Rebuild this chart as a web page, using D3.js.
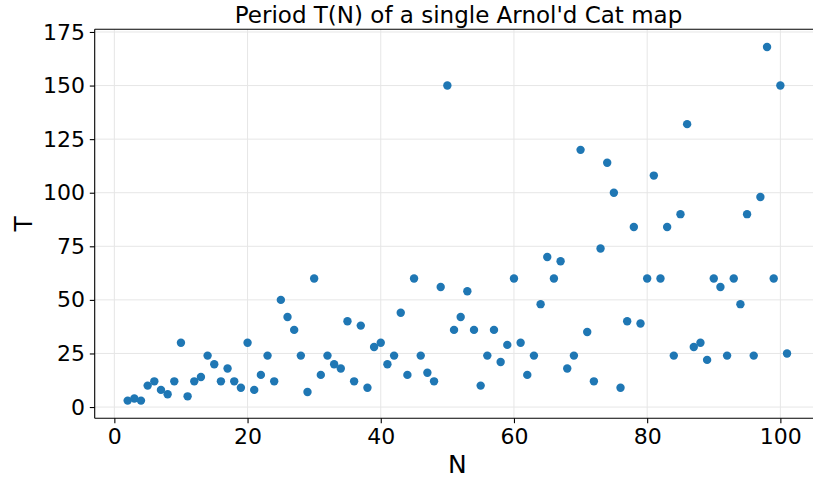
<!DOCTYPE html>
<html><head><meta charset="utf-8">
<script src="https://cdn.jsdelivr.net/npm/d3@7"></script>
<style>
html,body{margin:0;padding:0;background:#fff;overflow:hidden}
svg text{font-family:"DejaVu Sans",sans-serif;fill:#000}
</style></head>
<body>
<script>
const N = d3.range(2, 102);
const T = [3,4,3,10,12,8,6,12,30,5,12,14,24,20,12,18,12,9,30,8,15,24,12,50,42,36,24,7,60,15,24,20,18,40,12,38,9,28,30,20,24,44,15,60,24,16,12,56,150,36,42,54,36,10,24,36,21,29,60,30,15,24,48,70,60,68,18,24,120,35,12,74,114,100,9,40,84,39,60,108,60,84,24,90,132,28,30,22,60,56,24,60,48,90,24,98,168,60,150,25];
const xTicks = [0,20,40,60,80,100];
const yTicks = [0,25,50,75,100,125,150,175];
const title = "Period T(N) of a single Arnol'd Cat map";
const xLabel = "N", yLabel = "T";

const W = 813, H = 480;
const pL = 94.7, pR = 820, pT = 29.3, pB = 418.3;
const svg = d3.select("body").append("svg").attr("width", W).attr("height", H);

const x = d3.scaleLinear().domain([-2.95, 105.95]).range([pL, pR]);
const y = d3.scaleLinear().domain([-5.25, 176.25]).range([pB, pT]);

// grid
const g = svg.append("g");
g.selectAll(".gx").data(xTicks).join("line")
  .attr("x1", d => x(d)).attr("x2", d => x(d)).attr("y1", pT).attr("y2", pB)
  .attr("stroke", "#e6e6e6").attr("stroke-width", 1);
g.selectAll(".gy").data(yTicks).join("line")
  .attr("y1", d => y(d)).attr("y2", d => y(d)).attr("x1", pL).attr("x2", pR)
  .attr("stroke", "#e6e6e6").attr("stroke-width", 1);

// points
svg.append("g").selectAll("circle").data(N.map((n, i) => [n, T[i]])).join("circle")
  .attr("cx", d => x(d[0])).attr("cy", d => y(d[1])).attr("r", 4.2)
  .attr("fill", "#1f77b4");

// axes
const xAxis = d3.axisBottom(x).tickValues(xTicks).tickSize(4.9).tickPadding(4.9);
const yAxis = d3.axisLeft(y).tickValues(yTicks).tickSize(4.9).tickPadding(4.9);
const gx = svg.append("g").attr("transform", `translate(0,${pB})`).call(xAxis);
const gy = svg.append("g").attr("transform", `translate(${pL},0)`).call(yAxis);
[gx, gy].forEach(a => {
  a.select(".domain").remove();
  a.selectAll("line").attr("stroke", "#000").attr("stroke-width", 1.1);
  a.selectAll("text").attr("font-size", 22).attr("font-family", "DejaVu Sans");
});

// spines
const sp = svg.append("g").attr("stroke", "#000").attr("stroke-width", 1.1);
sp.append("line").attr("x1", pL).attr("x2", pL).attr("y1", pT).attr("y2", pB);
sp.append("line").attr("x1", pL).attr("x2", pR).attr("y1", pB).attr("y2", pB);
sp.append("line").attr("x1", pL).attr("x2", pR).attr("y1", pT).attr("y2", pT);
sp.append("line").attr("x1", pR).attr("x2", pR).attr("y1", pT).attr("y2", pB);

// labels
svg.append("text").attr("x", 458.5).attr("y", 23).attr("text-anchor", "middle")
  .attr("font-size", 23).text(title);
svg.append("text").attr("x", (pL + pR) / 2).attr("y", 473).attr("text-anchor", "middle")
  .attr("font-size", 25).text(xLabel);
svg.append("text").attr("transform", `translate(32,${(pT + pB) / 2}) rotate(-90)`)
  .attr("text-anchor", "middle").attr("font-size", 25).text(yLabel);
</script>
</body></html>
